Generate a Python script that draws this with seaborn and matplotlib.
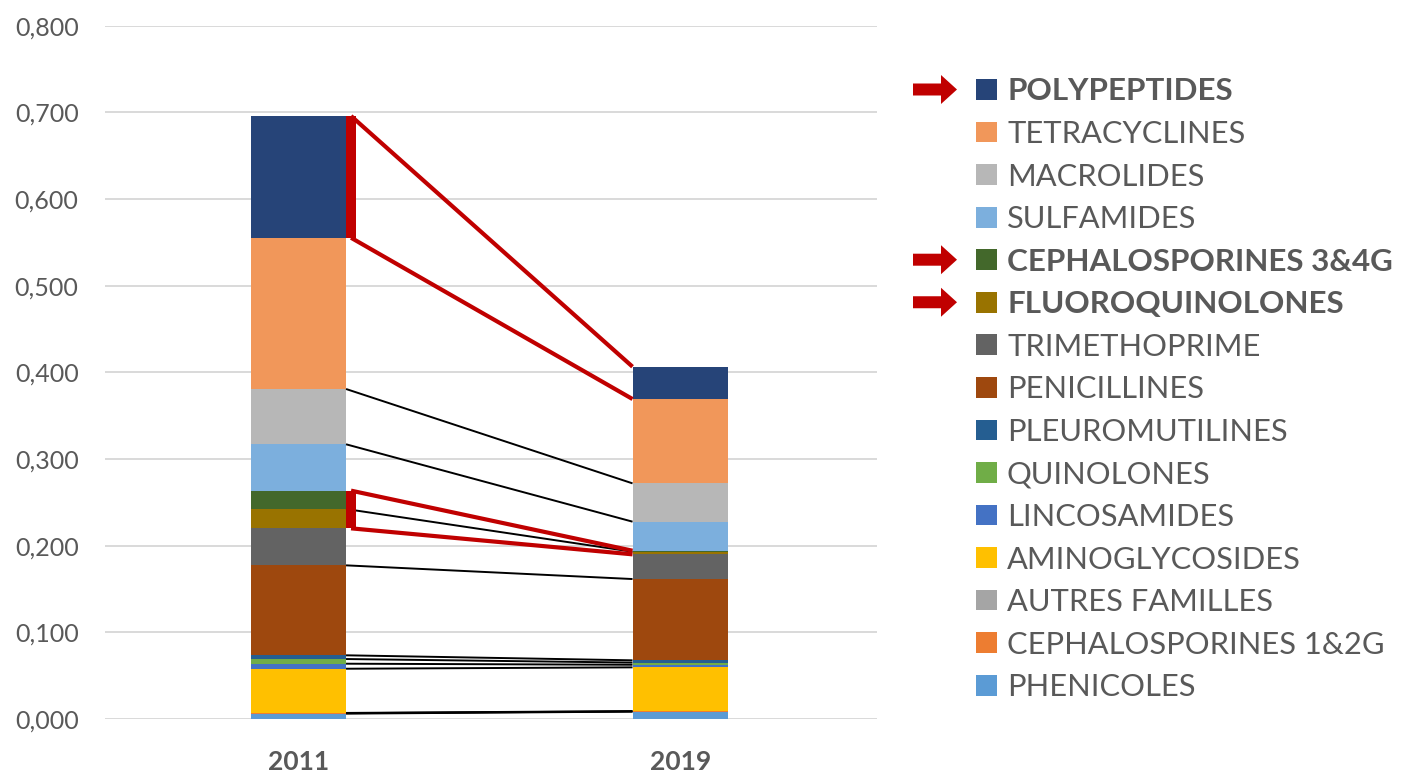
import matplotlib
matplotlib.use("Agg")
import numpy as np
import pandas as pd
import seaborn as sns
import matplotlib.pyplot as plt
from matplotlib.patches import Rectangle, Polygon
from matplotlib.ticker import FuncFormatter

# ---------------- data (legend order, top of stack first) ----------------
years = ["2011", "2019"]
families = [
    "POLYPEPTIDES", "TETRACYCLINES", "MACROLIDES", "SULFAMIDES",
    "CEPHALOSPORINES 3&4G", "FLUOROQUINOLONES", "TRIMETHOPRIME",
    "PENICILLINES", "PLEUROMUTILINES", "QUINOLONES", "LINCOSAMIDES",
    "AMINOGLYCOSIDES", "AUTRES FAMILLES", "CEPHALOSPORINES 1&2G", "PHENICOLES",
]
values_2011 = [0.1405, 0.1745, 0.0638, 0.0535, 0.0212, 0.0223, 0.0427,
               0.1038, 0.0043, 0.0054, 0.0058, 0.0510, 0.0003, 0.0005, 0.0062]
values_2019 = [0.0373, 0.0973, 0.0442, 0.0335, 0.0012, 0.0030, 0.0285,
               0.0938, 0.0026, 0.0025, 0.0030, 0.0505, 0.0003, 0.0003, 0.0085]
colors = ["#264478", "#F1975A", "#B7B7B7", "#7CAFDD", "#43682B", "#997300",
          "#636363", "#9E480E", "#255E91", "#70AD47", "#4472C4", "#FFC000",
          "#A5A5A5", "#ED7D31", "#5B9BD5"]
highlighted = ["POLYPEPTIDES", "CEPHALOSPORINES 3&4G", "FLUOROQUINOLONES"]
y_ticks = [0.0, 0.1, 0.2, 0.3, 0.4, 0.5, 0.6, 0.7, 0.8]

# ---------------- styling ----------------
sns.set_theme(style="white")
plt.rcParams["font.family"] = ["Lato", "DejaVu Sans"]
TXT = "#595959"
RED = "#C00000"
W, H = 1403, 774

fig = plt.figure(figsize=(W / 100, H / 100), dpi=100)
ax = fig.add_axes([105 / W, 55 / H, (877 - 105) / W, (719 - 25.7) / H])

df = pd.DataFrame({
    "year": np.repeat(years, len(families)),
    "family": families * 2,
    "value": np.concatenate([values_2011, values_2019]),
})

bar_w = 0.25
sns.histplot(data=df, x="year", hue="family", weights="value",
             hue_order=families, palette=dict(zip(families, colors)),
             multiple="stack", discrete=True, shrink=bar_w, alpha=1,
             linewidth=0, legend=False, ax=ax, zorder=2)

ax.set_xlim(-0.506, 1.515)
ax.set_ylim(0, 0.8)
ax.set_yticks(y_ticks)
ax.yaxis.set_major_formatter(FuncFormatter(lambda v, p: f"{v:.3f}".replace(".", ",")))
ax.set_xticks([0, 1])
ax.set_xticklabels(years)
ax.set_xlabel("")
ax.set_ylabel("")
ax.yaxis.grid(True, color="#D9D9D9", linewidth=1.4)
ax.xaxis.grid(False)
ax.set_axisbelow(True)
sns.despine(ax=ax, left=True, bottom=True)
ax.tick_params(axis="y", length=0, pad=19, labelsize=18, labelcolor=TXT)
ax.tick_params(axis="x", length=0, pad=22, labelsize=19, labelcolor=TXT)
for t in ax.get_xticklabels():
    t.set_fontweight("bold")

# ---------------- connecting lines ----------------
a = np.array(values_2011)[::-1]
b = np.array(values_2019)[::-1]
fam_bottom_up = families[::-1]
top_a = np.cumsum(a)
top_b = np.cumsum(b)
bot_a = top_a - a
bot_b = top_b - b
x0 = 0 + bar_w / 2
x1 = 1 - bar_w / 2

# red brackets for contiguous highlighted groups
red_w = 10 / 380.8
idx = [i for i, f in enumerate(fam_bottom_up) if f in highlighted]
groups = []
for i in idx:
    if groups and groups[-1][-1] == i - 1:
        groups[-1].append(i)
    else:
        groups.append([i])
red_tops = set()
for g in groups:
    red_tops.add(g[-1])
    if g[0] > 0:
        red_tops.add(g[0] - 1)

for k, (ya, yb) in enumerate(zip(top_a, top_b)):
    if k in red_tops:
        continue
    ax.plot([x0, x1], [ya, yb], color="black", lw=1.4, zorder=3,
            solid_capstyle="butt")

for g in groups:
    lo, hi = g[0], g[-1]
    ax.bar(x0, top_a[hi] - bot_a[lo], bottom=bot_a[lo], width=red_w,
           align="edge", color=RED, linewidth=0, zorder=4)
    ax.plot([x0 + red_w * 0.5, x1], [top_a[hi], top_b[hi]], color=RED, lw=3.0,
            zorder=4, solid_capstyle="butt")
    ax.plot([x0 + red_w * 0.5, x1], [bot_a[lo], bot_b[lo]], color=RED, lw=3.0,
            zorder=4, solid_capstyle="butt")

# ---------------- legend (manual, figure pixels) ----------------
def fx(px):
    return px / W


def fy(py):
    return 1 - py / H


row0, step, sq = 89.5, 42.55, 20.7
for i, (fam, col) in enumerate(zip(families, colors)):
    yc = row0 + i * step
    fig.patches.append(Rectangle((fx(976), fy(yc + sq / 2)), sq / W, sq / H,
                                 transform=fig.transFigure, facecolor=col,
                                 edgecolor="none"))
    bold = fam in highlighted
    fig.text(fx(1007), fy(yc + 11), fam, fontsize=22.6 if bold else 22.2,
             color=TXT, fontweight="bold" if bold else "normal",
             va="baseline", ha="left")
    if bold:
        xs, xh, xe = 913, 941, 957
        sh, hh = 6, 14.5
        pts = [(xs, yc - sh), (xh, yc - sh), (xh, yc - hh), (xe, yc),
               (xh, yc + hh), (xh, yc + sh), (xs, yc + sh)]
        fig.patches.append(Polygon([(fx(px), fy(py)) for px, py in pts],
                                   closed=True, transform=fig.transFigure,
                                   facecolor=RED, edgecolor="none"))

fig.savefig("out.png", dpi=100)
